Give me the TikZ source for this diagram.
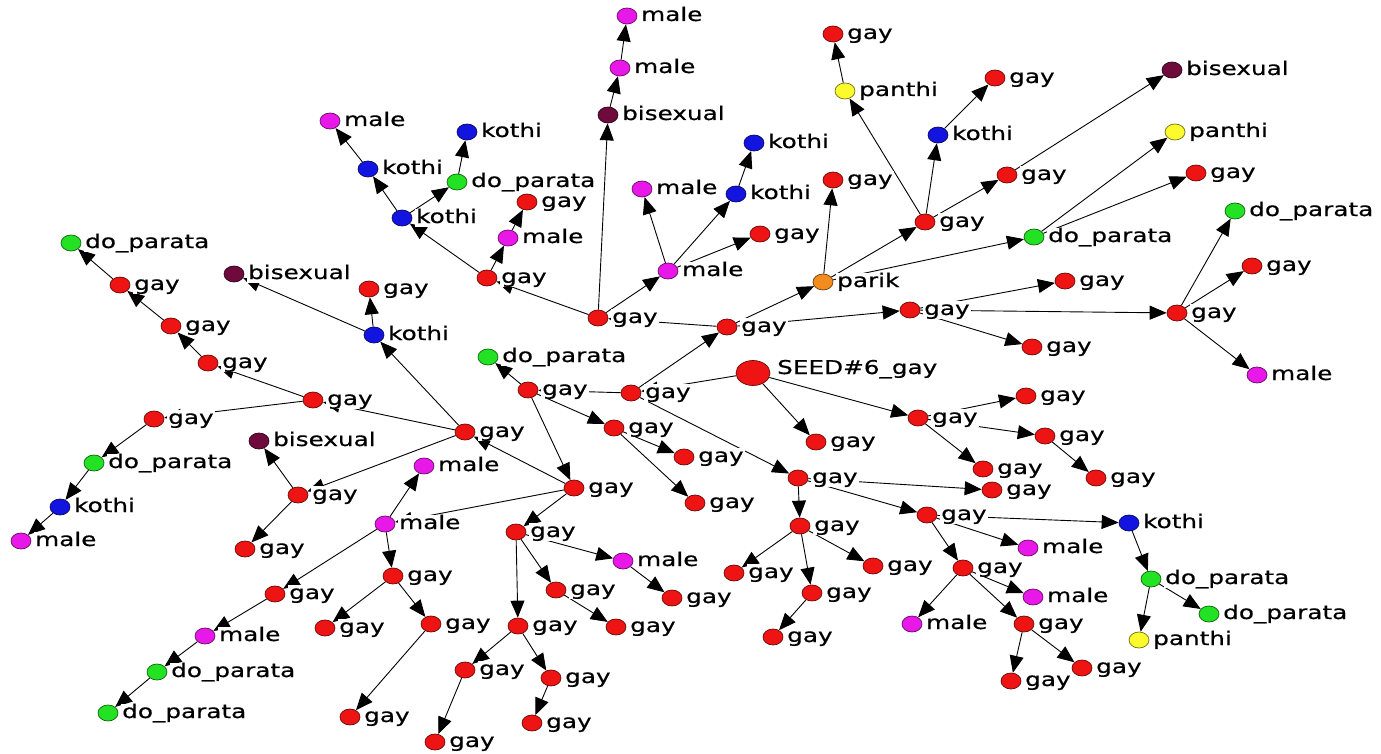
\documentclass[tikz,border=0pt]{standalone}
\usepackage{fontspec}
\setmainfont{DejaVu Sans}[FakeStretch=1.3,FakeBold=0.6]
\usetikzlibrary{shapes.geometric,arrows.meta}
\definecolor{cRed}{RGB}{238,20,20}
\definecolor{cMag}{RGB}{232,25,232}
\definecolor{cBlue}{RGB}{20,20,225}
\definecolor{cGreen}{RGB}{35,225,35}
\definecolor{cYel}{RGB}{250,250,45}
\definecolor{cMar}{RGB}{110,10,60}
\definecolor{cOrange}{RGB}{242,140,30}
\pgfdeclarelayer{bglayer}
\pgfdeclarelayer{edgelayer}
\pgfsetlayers{bglayer,edgelayer,main}
\tikzset{
  vdot/.style={ellipse, minimum width=20pt, minimum height=16pt, inner sep=0pt,
    fill=#1, draw=#1!45!black, line width=0.7pt},
  vlab/.style={anchor=base west, fill=white, inner xsep=1pt, inner ysep=0pt,
    text height=14pt, text depth=4pt, font=\fontsize{19pt}{22pt}\selectfont},
  edg/.style={-{Triangle[length=17pt,width=14pt]}, line width=0.9pt, black},
}
% a vertex: dot plus its label to the right
\newcommand\vtx[5]{%
  \node[vdot=#4] (#1) at (#2,#3) {};
  \node[vlab] (#1-t) at ([xshift=13pt,yshift=-5pt]#1.center) {#5};}
\begin{document}
\begin{tikzpicture}[x=1pt,y=-1pt]
\useasboundingbox (0,0) rectangle (1381,754);
\begin{pgfonlayer}{bglayer}
\fill[white] (0,0) rectangle (1381,754);
\end{pgfonlayer}

% upper middle
\vtx{mA}{627}{16}{cMag}{male}
\vtx{mB}{620}{68}{cMag}{male}
\vtx{biA}{608}{115}{cMar}{bisexual}
\vtx{maleA}{330}{121}{cMag}{male}
\vtx{kA}{467}{132}{cBlue}{kothi}
\vtx{kB}{368}{169}{cBlue}{kothi}
\vtx{dpA}{457}{182}{cGreen}{do\_parata}
\vtx{kC}{402}{218}{cBlue}{kothi}
\vtx{gA}{527}{202}{cRed}{gay}
\vtx{maleB}{508}{238}{cMag}{male}
\vtx{gB}{487}{278}{cRed}{gay}
\vtx{gC}{598}{318}{cRed}{gay}
\vtx{maleC}{642}{189}{cMag}{male}
\vtx{kD}{754}{143}{cBlue}{kothi}
\vtx{kE}{736}{194}{cBlue}{kothi}
\vtx{gD}{760}{234}{cRed}{gay}
\vtx{maleD}{668}{271}{cMag}{male}

% upper right
\vtx{gE}{833}{34}{cRed}{gay}
\vtx{panA}{845}{91}{cYel}{panthi}
\vtx{gF}{995}{78}{cRed}{gay}
\vtx{kF}{938}{135}{cBlue}{kothi}
\vtx{biB}{1172}{70}{cMar}{bisexual}
\vtx{panB}{1175}{132}{cYel}{panthi}
\vtx{gG}{1007}{175}{cRed}{gay}
\vtx{gH}{1196}{173}{cRed}{gay}
\vtx{gI}{833}{180}{cRed}{gay}
\vtx{gJ}{925}{222}{cRed}{gay}
\vtx{dpB}{1034}{237}{cGreen}{do\_parata}
\vtx{dpC}{1235}{211}{cGreen}{do\_parata}
\vtx{parik}{823}{282}{cOrange}{parik}
\vtx{gK}{1252}{266}{cRed}{gay}
\vtx{gL}{1065}{281}{cRed}{gay}
\vtx{gM}{910}{310}{cRed}{gay}
\vtx{gN}{1177}{313}{cRed}{gay}
\vtx{gO}{727}{327}{cRed}{gay}
\vtx{gP}{1032}{347}{cRed}{gay}
\vtx{maleE}{1257}{375}{cMag}{male}

% seed and its right-hand branch
\node[vdot=cRed, minimum width=34pt, minimum height=25pt] (seed) at (753,373) {};
\node[vlab] (seed-t) at ([xshift=23pt,yshift=-1pt]seed.center) {SEED\#6\_gay};
\vtx{gQ}{1026}{396}{cRed}{gay}
\vtx{gR}{918}{418}{cRed}{gay}
\vtx{gS}{1045}{436}{cRed}{gay}
\vtx{gT}{816}{442}{cRed}{gay}
\vtx{gU}{983}{469}{cRed}{gay}
\vtx{gV}{1096}{478}{cRed}{gay}
\vtx{gW}{992}{490}{cRed}{gay}
\vtx{gX}{798}{478}{cRed}{gay}

% left half
\vtx{dpD}{71}{243}{cGreen}{do\_parata}
\vtx{biC}{234}{274}{cMar}{bisexual}
\vtx{g1}{120}{285}{cRed}{gay}
\vtx{g2}{369}{289}{cRed}{gay}
\vtx{g3}{171}{326}{cRed}{gay}
\vtx{kG}{374}{335}{cBlue}{kothi}
\vtx{g4}{208}{363}{cRed}{gay}
\vtx{dpE}{488}{357}{cGreen}{do\_parata}
\vtx{g5}{528}{390}{cRed}{gay}
\vtx{g6}{631}{393}{cRed}{gay}
\vtx{g7}{313}{400}{cRed}{gay}
\vtx{g8}{154}{419}{cRed}{gay}
\vtx{g9}{614}{428}{cRed}{gay}
\vtx{g10}{465}{432}{cRed}{gay}
\vtx{biD}{259}{441}{cMar}{bisexual}
\vtx{g11}{684}{457}{cRed}{gay}
\vtx{dpF}{94}{463}{cGreen}{do\_parata}
\vtx{maleF}{424}{466}{cMag}{male}
\vtx{g12}{574}{488}{cRed}{gay}
\vtx{g13}{298}{495}{cRed}{gay}
\vtx{g14}{695}{503}{cRed}{gay}
\vtx{kH}{60}{507}{cBlue}{kothi}
\vtx{maleG}{385}{524}{cMag}{male}
\vtx{g15}{516}{532}{cRed}{gay}
\vtx{maleH}{21}{541}{cMag}{male}
\vtx{g16}{245}{549}{cRed}{gay}
\vtx{maleI}{623}{561}{cMag}{male}
\vtx{g17}{393}{576}{cRed}{gay}
\vtx{g18}{556}{590}{cRed}{gay}
\vtx{g19}{275}{594}{cRed}{gay}
\vtx{g20}{672}{598}{cRed}{gay}
\vtx{g21}{325}{628}{cRed}{gay}
\vtx{g22}{431}{624}{cRed}{gay}
\vtx{g23}{518}{626}{cRed}{gay}
\vtx{g24}{616}{627}{cRed}{gay}
\vtx{maleJ}{205}{636}{cMag}{male}
\vtx{g25}{465}{670}{cRed}{gay}
\vtx{g26}{551}{678}{cRed}{gay}
\vtx{dpG}{157}{672}{cGreen}{do\_parata}
\vtx{g27}{350}{717}{cRed}{gay}
\vtx{g28}{532}{723}{cRed}{gay}
\vtx{dpH}{108}{713}{cGreen}{do\_parata}
\vtx{g29}{435}{742}{cRed}{gay}

% lower right
\vtx{g30}{800}{526}{cRed}{gay}
\vtx{g31}{927}{515}{cRed}{gay}
\vtx{kI}{1129}{523}{cBlue}{kothi}
\vtx{maleK}{1028}{548}{cMag}{male}
\vtx{g32}{734}{573}{cRed}{gay}
\vtx{g33}{873}{566}{cRed}{gay}
\vtx{g34}{812}{593}{cRed}{gay}
\vtx{g35}{963}{568}{cRed}{gay}
\vtx{dpI}{1151}{579}{cGreen}{do\_parata}
\vtx{maleL}{1033}{597}{cMag}{male}
\vtx{dpJ}{1209}{614}{cGreen}{do\_parata}
\vtx{g36}{773}{637}{cRed}{gay}
\vtx{maleM}{912}{624}{cMag}{male}
\vtx{g37}{1024}{624}{cRed}{gay}
\vtx{panC}{1139}{640}{cYel}{panthi}
\vtx{g38}{1082}{668}{cRed}{gay}
\vtx{g39}{1011}{681}{cRed}{gay}

% recruitment edges, drawn beneath dots and labels
\begin{pgfonlayer}{edgelayer}
\foreach \a/\b in {
  gC/biA, biA/mB, mB/mA,
  gC/maleD, maleD/maleC, maleD/kE, kE/kD, maleD/gD,
  gC/gB, gB/maleB, maleB/gA, gB/kC, kC/kB, kB/maleA, kC/dpA, dpA/kA,
  gO/gC, g6/gO, gO/parik, gO/gM,
  parik/gI, parik/gJ, parik/dpB,
  gJ/panA, panA/gE, gJ/kF, kF/gF, gJ/gG, gG/biB,
  dpB/panB, dpB/gH,
  gM/gL, gM/gN, gM/gP,
  gN/dpC, gN/gK, gN/maleE,
  seed/g6, seed/gT, seed/gR,
  gR/gQ, gR/gS, gR/gU, gS/gV,
  g6/g5, g6/gX,
  g5/dpE, g5/g9, g5/g12,
  g9/g11, g9/g14,
  g12/g10, g12/maleG, g12/g15,
  g15/maleI, g15/g18, g15/g23,
  maleI/g20, g18/g24, g23/g25, g23/g26, g25/g29, g26/g28,
  maleG/maleF, maleG/g17, maleG/g19,
  g17/g21, g17/g22, g22/g27,
  g19/maleJ, maleJ/dpG, dpG/dpH,
  g10/kG, kG/g2, kG/biC,
  g10/g7, g10/g13,
  g13/biD, g13/g16,
  g7/g4, g4/g3, g3/g1, g1/dpD,
  g7/g8, g8/dpF, dpF/kH, kH/maleH,
  gX/g30, gX/gW, gX/g31,
  g30/g32, g30/g34, g30/g33, g34/g36,
  g31/kI, g31/maleK, g31/g35,
  g35/maleM, g35/maleL, g35/g37,
  g37/g39, g37/g38,
  kI/dpI, dpI/panC, dpI/dpJ}
  \draw[edg] (\a) -- (\b);
\end{pgfonlayer}
\end{tikzpicture}
\end{document}
